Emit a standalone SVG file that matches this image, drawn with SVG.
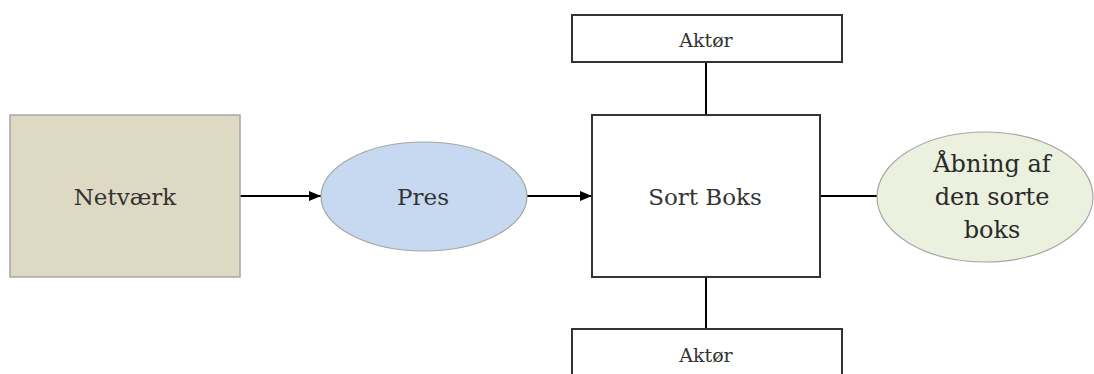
<svg xmlns="http://www.w3.org/2000/svg" width="1094" height="374" viewBox="0 0 1094 374">
  <style>
    .lbl { font-family: "DejaVu Serif", "Liberation Serif", serif; fill: #333333; text-anchor: middle; }
    .big { font-size: 23px; }
    .bigger { font-size: 24px; fill: #2a2a2a; }
    .small { font-size: 19px; }
    .wire { stroke: #000000; stroke-width: 2; fill: none; }
    .frame { fill: #ffffff; stroke: #333333; stroke-width: 2; }
  </style>
  <defs>
    <marker id="arrow" viewBox="0 0 12 10" refX="12" refY="5" markerWidth="12" markerHeight="10" markerUnits="userSpaceOnUse" orient="auto">
      <path d="M0,0 L12,5 L0,10 Z" fill="#000000"/>
    </marker>
  </defs>
  <rect width="1094" height="374" fill="#ffffff"/>

  <g id="connectors">
    <line class="wire" x1="240" y1="196" x2="321" y2="196" marker-end="url(#arrow)"/>
    <line class="wire" x1="527" y1="196" x2="592" y2="196" marker-end="url(#arrow)"/>
    <line class="wire" x1="820" y1="196" x2="877" y2="196"/>
    <line class="wire" x1="706" y1="62" x2="706" y2="115"/>
    <line class="wire" x1="706" y1="277" x2="706" y2="329"/>
  </g>

  <g id="netvaerk">
    <rect x="10" y="115" width="230" height="162" fill="#ddd9c3" stroke="#a6a6a6" stroke-width="1.5"/>
    <text class="lbl big" x="125" y="205">Netværk</text>
  </g>

  <g id="pres">
    <ellipse cx="424" cy="196.5" rx="103" ry="54.5" fill="#c6d9f1" stroke="#a6a6a6" stroke-width="1.2"/>
    <text class="lbl big" x="423" y="205">Pres</text>
  </g>

  <g id="sort-boks">
    <rect class="frame" x="592" y="115" width="228" height="162"/>
    <text class="lbl big" x="705" y="205">Sort Boks</text>
  </g>

  <g id="aktor-top">
    <rect class="frame" x="572" y="15" width="270" height="47"/>
    <text class="lbl small" x="706" y="47">Aktør</text>
  </g>

  <g id="aktor-bottom">
    <rect class="frame" x="572" y="329" width="270" height="60"/>
    <text class="lbl small" x="706" y="362">Aktør</text>
  </g>

  <g id="aabning">
    <ellipse cx="985" cy="197" rx="108" ry="65" fill="#ebf1de" stroke="#a6a6a6" stroke-width="1.2"/>
    <text class="lbl bigger" x="992" y="172">Åbning af</text>
    <text class="lbl bigger" x="992" y="205">den sorte</text>
    <text class="lbl bigger" x="992" y="238">boks</text>
  </g>
</svg>
